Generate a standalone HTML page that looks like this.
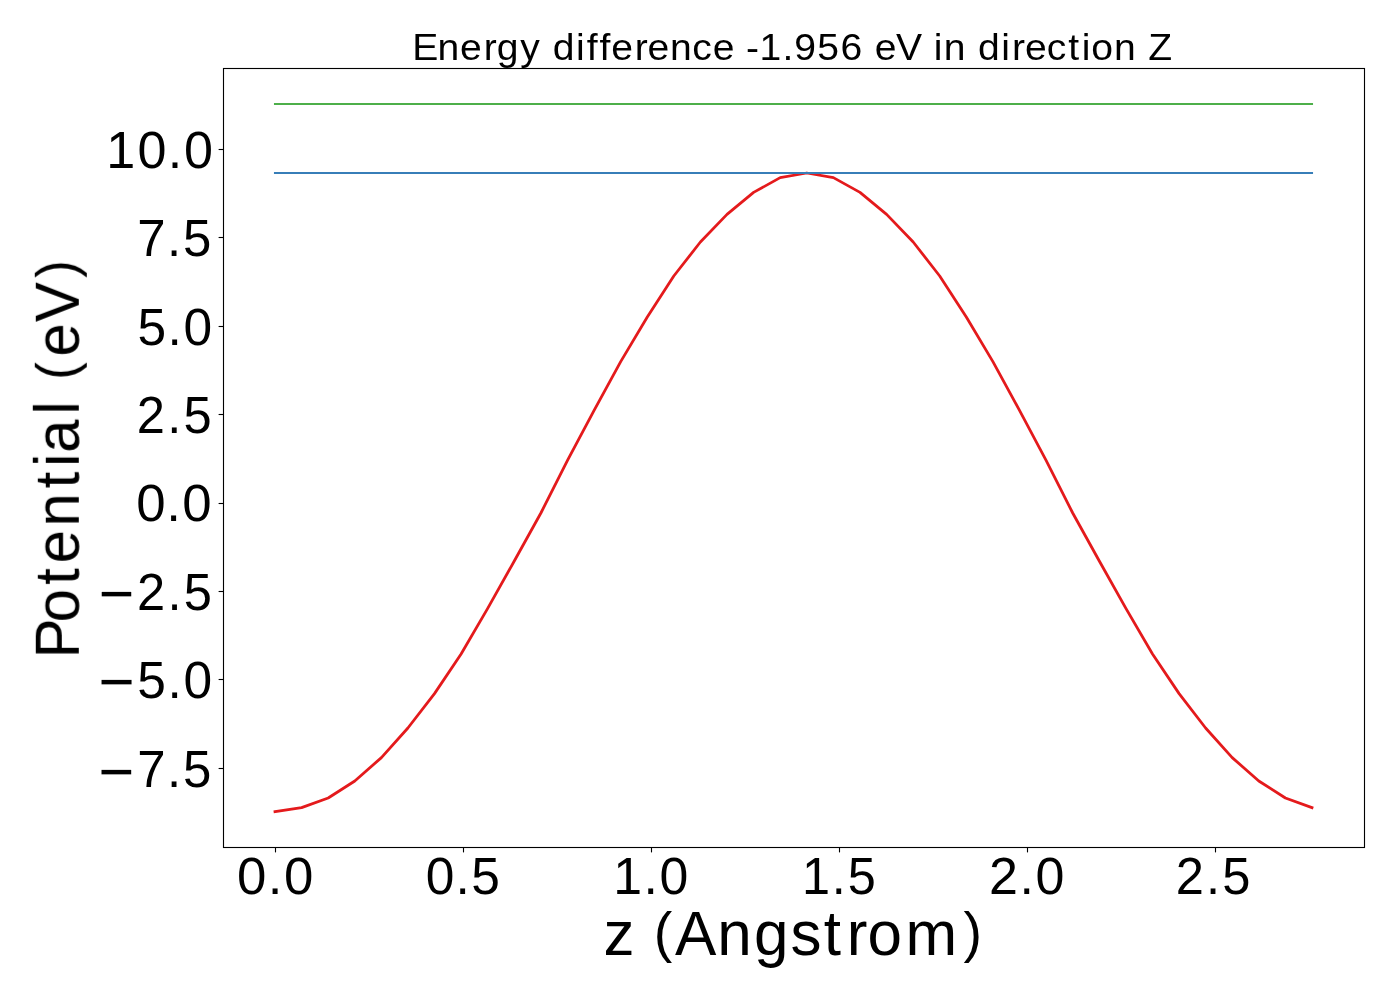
<!DOCTYPE html>
<html lang="en">
<head>
<meta charset="utf-8">
<title>Energy difference -1.956 eV in direction Z</title>
<style>
html,body{margin:0;padding:0;background:#fff;}
body{width:1400px;height:1000px;overflow:hidden;}
svg{display:block;}
text{font-family:"Liberation Sans",sans-serif;fill:#000;will-change:transform;}
</style>
</head>
<body>
<svg width="1400" height="1000" viewBox="0 0 1400 1000">
<rect x="0" y="0" width="1400" height="1000" fill="#ffffff"/>
<g fill="none" stroke-linecap="square" stroke-linejoin="round">
<polyline stroke="#e41a1c" stroke-width="2.78" points="275.0,811.6 301.6,807.6 328.2,798.0 354.8,781.0 381.4,757.6 407.9,728.0 434.5,693.6 461.1,654.0 487.7,608.4 514.3,561.0 540.9,513.0 567.5,460.3 594.1,410.3 620.7,361.6 647.3,317.0 673.8,276.0 700.4,242.0 727.0,214.4 753.6,192.4 780.2,177.6 806.8,173.0 833.4,177.6 860.0,192.4 886.6,214.4 913.2,242.0 939.7,276.0 966.3,317.0 992.9,361.6 1019.5,410.3 1046.1,460.3 1072.7,513.0 1099.3,561.0 1125.9,608.4 1152.5,654.0 1179.1,693.6 1205.6,728.0 1232.2,757.6 1258.8,781.0 1285.4,798.0 1312.0,807.6"/>
<line stroke="#377eb8" stroke-width="2.08" x1="275.0" y1="173" x2="1312.0" y2="173"/>
<line stroke="#4daf4a" stroke-width="2.08" x1="275.0" y1="104" x2="1312.0" y2="104"/>
</g>
<g stroke="#000" stroke-width="1.11" fill="none">
<line x1="275.5" y1="847.5" x2="275.5" y2="852.4"/>
<line x1="463.5" y1="847.5" x2="463.5" y2="852.4"/>
<line x1="651.5" y1="847.5" x2="651.5" y2="852.4"/>
<line x1="839.5" y1="847.5" x2="839.5" y2="852.4"/>
<line x1="1027.5" y1="847.5" x2="1027.5" y2="852.4"/>
<line x1="1215.5" y1="847.5" x2="1215.5" y2="852.4"/>
<line x1="218.6" y1="149.5" x2="223.5" y2="149.5"/>
<line x1="218.6" y1="237.5" x2="223.5" y2="237.5"/>
<line x1="218.6" y1="326.5" x2="223.5" y2="326.5"/>
<line x1="218.6" y1="414.5" x2="223.5" y2="414.5"/>
<line x1="218.6" y1="503.5" x2="223.5" y2="503.5"/>
<line x1="218.6" y1="591.5" x2="223.5" y2="591.5"/>
<line x1="218.6" y1="679.5" x2="223.5" y2="679.5"/>
<line x1="218.6" y1="768.5" x2="223.5" y2="768.5"/>
<rect x="223.5" y="68.5" width="1141.0" height="779.0" stroke-linejoin="miter"/>
</g>
<text id="title" transform="translate(417.50 60.00) scale(1.0342 1.0000)" font-size="37.79" x="-5.14 19.33 41.2 63.97 76.6 99.33 119.17 130.68 153.21 163.6 175.93 187.23 210 222.4 244.27 265.56 285.39 306.63 317.77 330.79 352.96 364.29 386.55 408.96 430.65 442.09 462.66 487.29 499.09 508.78 530.34 541.85 564.37 574.96 587.36 608.33 629.36 642.26 651.5 673.38 694.94 706.48" y="0">Energy difference -1.956 eV in direction Z</text>
<text id="xlabel" transform="translate(606.00 955.25) scale(0.9980 1.0000)" font-size="62.14" x="-2.42 28.36 47.77 69.25 111.59 148.42 184.92 218.12 241.29 262.01 300.12 358.17" y="0">z <tspan font-size="55.76" dy="-3.85">(</tspan><tspan dy="3.85">Angstrom</tspan><tspan font-size="55.76" dy="-3.85">)</tspan></text>
<text id="ylabel" transform="translate(78.80 651.20) rotate(-90) scale(0.9518 1.0000)" font-size="62.94" x="-7.49 30.26 69.86 92.41 130.95 171.12 193.75 208.34 248.68 264.3 285.2 309.46 345.9 392.21" y="0">Potential <tspan font-size="55.76" dy="-3.85">(</tspan><tspan dy="3.85">eV</tspan><tspan font-size="55.76" dy="-3.85">)</tspan></text>
<text id="xt0" transform="translate(239.20 894.00) scale(1.0097 1.0000)" font-size="52.33" x="-2.07 28.22 44.28" y="0">0.0</text>
<text id="xt1" transform="translate(427.50 894.00) scale(0.9840 1.0000)" font-size="52.33" x="-1.75 28.37 44.45" y="0">0.5</text>
<text id="xt2" transform="translate(617.50 894.00) scale(0.9904 1.0000)" font-size="52.33" x="-4.31 26.16 42.4" y="0">1.0</text>
<text id="xt3" transform="translate(805.80 894.00) scale(0.9635 1.0000)" font-size="52.33" x="-4 26.92 43.53" y="0">1.5</text>
<text id="xt4" transform="translate(992.00 894.00) scale(0.9936 1.0000)" font-size="52.33" x="-2.9 27.74 43.82" y="0">2.0</text>
<text id="xt5" transform="translate(1178.20 894.00) scale(0.9674 1.0000)" font-size="52.33" x="-2.59 28.86 45.46" y="0">2.5</text>
<text id="yt0" transform="translate(110.50 167.90) scale(0.9958 1.0000)" font-size="52.33" x="-4.37 27.03 57.44 73.72" y="0">10.0</text>
<text id="yt1" transform="translate(139.60 256.40) scale(0.9738 1.0000)" font-size="52.33" x="-2.54 28.2 44.66" y="0">7.5</text>
<text id="yt2" transform="translate(140.00 344.50) scale(0.9840 1.0000)" font-size="52.33" x="-2.52 27.88 44.19" y="0">5.0</text>
<text id="yt3" transform="translate(139.20 432.90) scale(0.9674 1.0000)" font-size="52.33" x="-2.59 29.07 45.77" y="0">2.5</text>
<text id="yt4" transform="translate(138.40 521.00) scale(1.0097 1.0000)" font-size="52.33" x="-2.07 27.7 43.49" y="0">0.0</text>
<text id="yt5" transform="translate(100.80 609.50) scale(0.9674 1.0000)" font-size="52.33" x="-2.17 37.56 69.05 85.68" y="0"><tspan font-size="62.79" dy="5.61">−</tspan><tspan dy="-5.61">2.5</tspan></text>
<text id="yt6" transform="translate(100.80 697.60) scale(0.9840 1.0000)" font-size="52.33" x="-2.45 37.12 67.71 84.13" y="0"><tspan font-size="62.79" dy="5.61">−</tspan><tspan dy="-5.61">5.0</tspan></text>
<text id="yt7" transform="translate(100.80 787.10) scale(0.9738 1.0000)" font-size="52.33" x="-2.28 37.55 68.12 84.51" y="0"><tspan font-size="62.79" dy="5.61">−</tspan><tspan dy="-5.61">7.5</tspan></text>
</svg>
</body>
</html>
